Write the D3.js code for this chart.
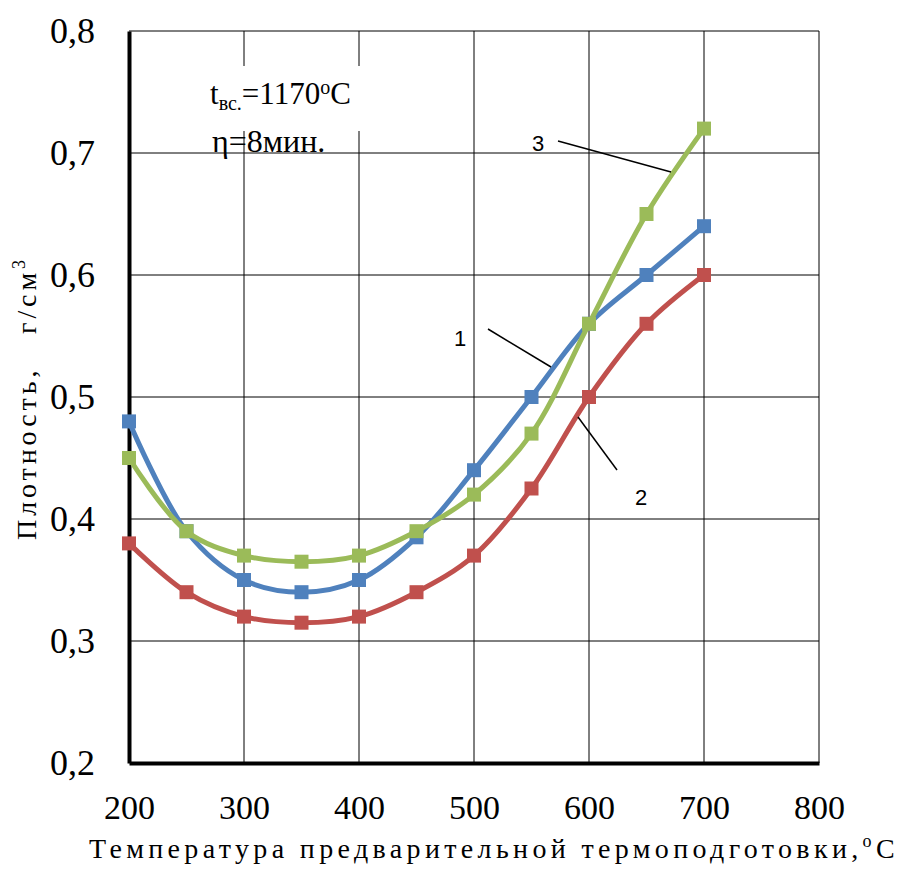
<!DOCTYPE html>
<html>
<head>
<meta charset="utf-8">
<script src="https://cdn.jsdelivr.net/npm/d3@7"></script>
<style>
  body { margin: 0; background: #fff; }
</style>
</head>
<body>
<div id="chart"></div>
<script>
"use strict";

// chart data
var temps = [200, 250, 300, 350, 400, 450, 500, 550, 600, 650, 700];
var series1 = [0.48, 0.39, 0.35, 0.34, 0.35, 0.385, 0.44, 0.50, 0.56, 0.60, 0.64];
var series2 = [0.38, 0.34, 0.32, 0.315, 0.32, 0.34, 0.37, 0.425, 0.50, 0.56, 0.60];
var series3 = [0.45, 0.39, 0.37, 0.365, 0.37, 0.39, 0.42, 0.47, 0.56, 0.65, 0.72];
var xTicks = [200, 300, 400, 500, 600, 700, 800];
var yTicks = [0.2, 0.3, 0.4, 0.5, 0.6, 0.7, 0.8];

var SERIF = "Liberation Serif, Times New Roman, Tinos, Nimbus Roman, DejaVu Serif, serif";
var SANS = "Liberation Sans, Arial, sans-serif";

var W = 904, H = 870;
var margin = {left: 129, top: 31, right: 85, bottom: 107};
var iw = W - margin.left - margin.right;
var ih = H - margin.top - margin.bottom;

var svg = d3.select("#chart").append("svg")
	.attr("width", W)
	.attr("height", H);

var g = svg.append("g")
	.attr("transform", "translate(" + margin.left + "," + margin.top + ")");

var x = d3.scaleLinear().domain([200, 800]).range([0, iw]);
var y = d3.scaleLinear().domain([0.2, 0.8]).range([ih, 0]);

var fmt = function(d) { return d3.format(".1f")(d).replace(".", ","); };

// grid
g.append("g")
	.selectAll("line")
	.data(xTicks.slice(1))
	.join("line")
	.attr("x1", d => x(d)).attr("x2", d => x(d))
	.attr("y1", 0).attr("y2", ih)
	.attr("stroke", "#000").attr("stroke-width", 1);
g.append("g")
	.selectAll("line")
	.data(yTicks.slice(1))
	.join("line")
	.attr("x1", 0).attr("x2", iw)
	.attr("y1", d => y(d)).attr("y2", d => y(d))
	.attr("stroke", "#000").attr("stroke-width", 1);

// white box behind the annotation
g.append("rect")
	.attr("x", 72).attr("y", 35)
	.attr("width", 172).attr("height", 65)
	.attr("fill", "#fff");

// axes
var xAxis = g.append("g")
	.attr("transform", "translate(0," + ih + ")")
	.call(d3.axisBottom(x).tickValues(xTicks).tickSize(0).tickPadding(32).tickFormat(d3.format("d")));
xAxis.attr("font-family", SERIF);
xAxis.select(".domain").attr("stroke", "#000").attr("stroke-width", 4);
xAxis.selectAll("text")
	.attr("font-family", SERIF)
	.attr("font-size", 34)
	.attr("fill", "#000");

var yAxis = g.append("g")
	.call(d3.axisLeft(y).tickValues(yTicks).tickSize(0).tickPadding(34).tickFormat(fmt));
yAxis.attr("font-family", SERIF);
yAxis.select(".domain").attr("stroke", "#000").attr("stroke-width", 4);
yAxis.selectAll("text")
	.attr("font-family", SERIF)
	.attr("font-size", 36)
	.attr("fill", "#000");

// curves
var colors = ["#4F81BD", "#C0504D", "#9BBB59"];
var allSeries = [series1, series2, series3];
var line = d3.line()
	.x((d, i) => x(temps[i]))
	.y(d => y(d))
	.curve(d3.curveCatmullRom.alpha(0.5));

// draw order: red, blue, green on top
[1, 0, 2].forEach(function(k) {
	var vals = allSeries[k];
	g.append("path")
		.datum(vals)
		.attr("d", line)
		.attr("fill", "none")
		.attr("stroke", colors[k])
		.attr("stroke-width", 5);
	g.selectAll(null)
		.data(vals)
		.join("rect")
		.attr("x", (d, i) => x(temps[i]) - 7)
		.attr("y", d => y(d) - 7)
		.attr("width", 14).attr("height", 14)
		.attr("fill", colors[k]);
});

// annotation text
var ann = g.append("text")
	.attr("x", 81).attr("y", 73)
	.attr("font-family", SERIF)
	.attr("font-size", 31)
	.attr("fill", "#000");
ann.append("tspan").text("t");
ann.append("tspan").attr("font-size", 20).attr("dy", 6).text("вс.");
ann.append("tspan").attr("dy", -6).text("=1170");
ann.append("tspan").attr("font-size", 20).attr("dy", -10).text("о");
ann.append("tspan").attr("dy", 10).text("С");

g.append("text")
	.attr("x", 83).attr("y", 121)
	.attr("font-family", SERIF)
	.attr("font-size", 32)
	.attr("fill", "#000")
	.text("η=8мин.");

// series labels with leader lines
var labels = [
	{t: "1", lx: 460, ly: 346, x1: 488, y1: 329, x2: 551, y2: 367},
	{t: "2", lx: 641, ly: 505, x1: 578, y1: 417, x2: 617, y2: 470},
	{t: "3", lx: 538, ly: 151, x1: 558, y1: 141, x2: 671, y2: 172}
];
labels.forEach(function(l) {
	svg.append("line")
		.attr("x1", l.x1).attr("y1", l.y1)
		.attr("x2", l.x2).attr("y2", l.y2)
		.attr("stroke", "#000").attr("stroke-width", 1.5);
	svg.append("text")
		.attr("x", l.lx).attr("y", l.ly)
		.attr("text-anchor", "middle")
		.attr("font-size", 22)
		.attr("font-family", SANS)
		.attr("fill", "#000")
		.text(l.t);
});

// stretch a title to a given length by letter spacing
function spread(sel, target) {
	var w = sel.node().getComputedTextLength();
	var n = sel.text().length;
	sel.attr("letter-spacing", Math.max(0, (target - w) / n));
}

// axis titles
var xt = svg.append("text")
	.attr("x", 494).attr("y", 858)
	.attr("text-anchor", "middle")
	.attr("font-family", SERIF)
	.attr("font-size", 28)
	.attr("fill", "#000");
xt.append("tspan").text("Температура предварительной термоподготовки,");
xt.append("tspan").attr("font-size", 18).attr("dy", -11).text("о");
xt.append("tspan").attr("dy", 11).text("С");
spread(xt, 810);

var yt = svg.append("text")
	.attr("transform", "translate(36,398) rotate(-90)")
	.attr("text-anchor", "middle")
	.attr("font-family", SERIF)
	.attr("font-size", 28)
	.attr("fill", "#000");
yt.append("tspan").text("Плотность,\u00A0\u00A0\u00A0г/см");
yt.append("tspan").attr("font-size", 18).attr("dy", -11).text("3");
spread(yt, 284);
</script>
</body>
</html>
